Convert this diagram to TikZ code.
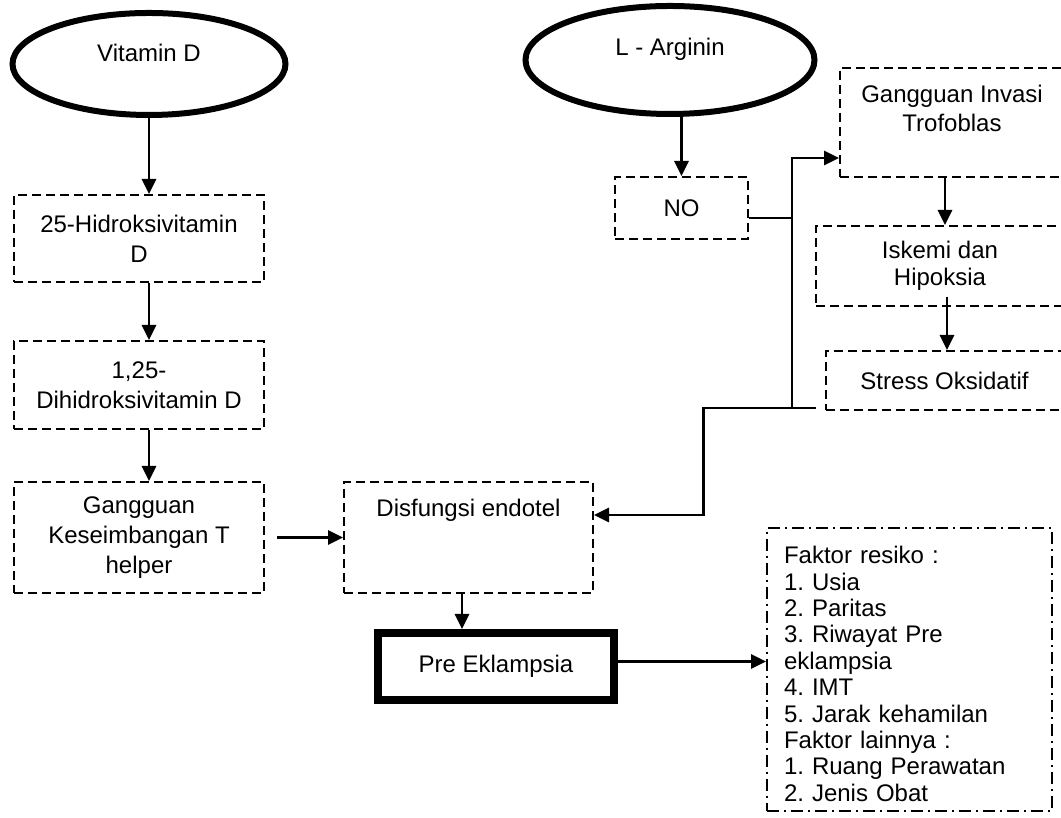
\documentclass[tikz,border=0pt]{standalone}
\usepackage{fontspec}
\setmainfont{Liberation Sans}
\usetikzlibrary{
  shapes.geometric, % Shape "ellipse"
  arrows.meta,
  positioning,      % Function "of" (e.g. [below=of x])
}
\frenchspacing
\def\mylw{2pt}
\def\myarrw{2.8pt}
\tikzset{
  font=\fontsize{24pt}{30pt}\selectfont,
  >={Triangle[length=15pt,width=14pt]},
  my oval/.style={
    ellipse,
    draw,
    line width=6pt,
    inner sep=0pt,
    text height=17pt
  },
  my box/.style={
    draw,
    dash pattern=on 9pt off 5pt,
    line width=\mylw,
    align=center,
    inner sep=0pt
  },
  my main/.style={
    draw,
    line width=8pt,
    minimum width=236pt,
    minimum height=67pt
  },
  my list/.style={
    draw,
    dash pattern=on 12pt off 5pt on 2pt off 5pt,
    line width=\mylw,
    text width=251pt,
    inner xsep=17pt,
    inner ysep=0pt,
    minimum height=283pt,
    align=left,
    font=\fontsize{24pt}{26.4pt}\selectfont
  },
  my arrow/.style={->,line width=\myarrw},
  my line/.style={line width=\myarrw}
}

\begin{document}
\begin{tikzpicture}[x=1pt,y=1pt]
\useasboundingbox (0,0) rectangle (1061,818);
\clip (0,0) rectangle (1061,818);
% vitamin D column
\node[my oval,minimum width=273pt,minimum height=102pt,text depth=22pt] (vitd) at (149,754) {Vitamin D};
\node[my box,minimum width=250pt,minimum height=87pt]  (hidro)   [below=76pt of vitd,xshift=-10pt] {25-Hidroksivitamin\\D};
\node[my box,minimum width=250pt,minimum height=88pt]  (dihidro) [below=57pt of hidro]  {1,25-\\Dihidroksivitamin D};
\node[my box,minimum width=250pt,minimum height=111pt] (helper)  [below=51pt of dihidro] {Gangguan\\Keseimbangan T\\helper};
\node[my box,minimum width=249pt,minimum height=111pt] (disf)    [right=78pt of helper] {Disfungsi endotel\\~\\~};
\node[my main] (pre)    [below=35pt of disf,xshift=27.5pt] {Pre Eklampsia};
\node[my list] (faktor) [right=148pt of pre,yshift=-3pt]
  {~\\Faktor resiko :\\1. Usia\\2. Paritas\\3. Riwayat Pre\\eklampsia\\4. IMT\\5. Jarak kehamilan\\Faktor lainnya :\\1. Ruang Perawatan\\2. Jenis Obat};
% L-arginin column
\node[my oval,minimum width=289pt,minimum height=108pt,text depth=26pt] (larg) at (670,758) {L - Arginin};
\node[my box,minimum width=133pt,minimum height=62pt] (no) [below=59pt of larg,xshift=11.5pt] {NO};
\node[my box,minimum width=224pt,minimum height=109pt,font=\fontsize{24pt}{29pt}\selectfont]
  (invasi) [right=90pt of no,yshift=85.5pt] {Gangguan Invasi\\Trofoblas\\~};
\node[my box,minimum width=248pt,minimum height=80pt,font=\fontsize{24pt}{27pt}\selectfont]
  (iskemi) [below=47pt of invasi,xshift=-12pt] {Iskemi dan\\Hipoksia};
\node[my box,minimum width=238pt,minimum height=59pt] (stress) [below=43pt of iskemi,xshift=4.5pt] {Stress Oksidatif};
\coordinate (split) at ([xshift=43pt,yshift=-10pt]no.east);
\coordinate (knee)  at ([xshift=-9pt,yshift=3pt]stress.south west);
\draw[my arrow] (vitd) -- (vitd |- hidro.north);
\draw[my arrow] (hidro.south -| vitd) -- (dihidro.north -| vitd);
\draw[my arrow] (dihidro.south -| vitd) -- (helper.north -| vitd);
\draw[my arrow] ([xshift=12pt]helper.east) -- (disf.west);
\draw[my arrow] ([xshift=-6.5pt]disf.south) -- ([xshift=-6.5pt]disf.south |- pre.north);
\draw[my arrow] ([yshift=5pt]pre.east) -- ([yshift=5pt]pre.east -| faktor.west);
\draw[my arrow] (larg.south -| no) -- (no.north);
\draw[my arrow] ([yshift=-10pt]no.east) -- (split) |- ([yshift=-35.5pt]invasi.west);
\draw[my line]  (split) -- (split |- knee);
\draw[my arrow] (knee) -- ++(-112pt,0) |- ([yshift=22.5pt]disf.east);
\draw[my arrow] ([xshift=-7pt]invasi.south) -- ([xshift=-7pt]invasi.south |- iskemi.north);
\draw[my arrow] ([xshift=7pt,yshift=10pt]iskemi.south) -- ([xshift=7pt]iskemi.south |- stress.north);
\end{tikzpicture}
\end{document}
